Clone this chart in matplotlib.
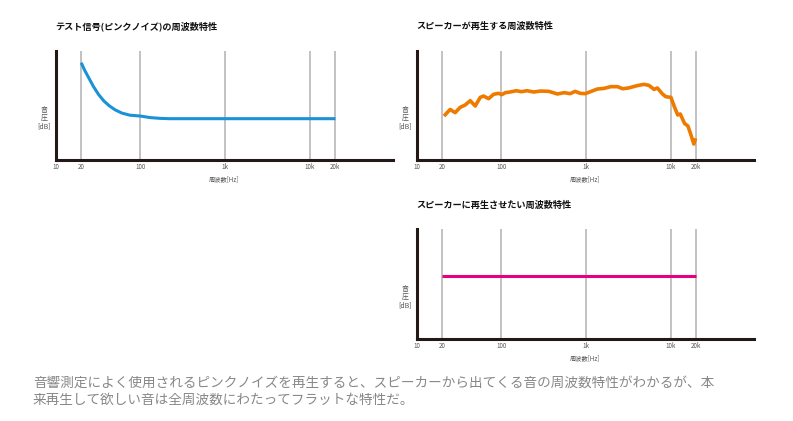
import matplotlib.pyplot as plt
import numpy as np

plt.rcParams['font.family'] = ['Noto Sans CJK JP', 'DejaVu Sans']

# data
tick_freqs = [10, 20, 100, 1000, 10000, 20000]
tick_labels = ['10', '20', '100', '1k', '10k', '20k']
grid_freqs = [20, 100, 1000, 10000, 20000]

pink_f = [20, 22, 25, 28, 32, 37, 43, 50, 60, 75, 100, 130, 170, 220, 20000]
pink_v = [89, 82, 74, 67, 60, 54, 49.5, 46, 43, 41, 40.2, 38.8, 38.1, 37.8, 37.8]

spk_f = [21, 24.8, 28.4, 32.6, 37.3, 42.8, 49, 56.2, 61.5, 70.5, 80.8, 92.5, 101, 111, 126, 150,
         171, 200, 240, 288, 363, 457, 550, 646, 741, 851, 977, 1122, 1349, 1622, 1950, 2344,
         2692, 3162, 3981, 4786, 5495, 6310, 6918, 7943, 8710, 10000, 10965, 12023, 12882,
         14454, 15849, 16982, 18621, 19500]
spk_v = [40.2, 46.3, 43.3, 48.2, 50.3, 54.3, 49.4, 57.3, 58.5, 56.1, 60.1, 61, 59.8, 61.6,
         62.2, 63.4, 62.5, 63.4, 62.2, 63.1, 62.8, 60.4, 61.6, 60.7, 62.8, 61, 60.7, 62.5,
         64.9, 65.5, 67.1, 67.1, 65.2, 65.9, 68, 69.2, 68.3, 64.6, 65.9, 60.4, 57.9, 57.3,
         48.8, 41.2, 42.1, 33.5, 31.1, 24.4, 14.6, 19.8]

flat_f = [20, 20000]
flat_v = [57.7, 57.7]

titles = ['テスト信号(ピンクノイズ)の周波数特性', 'スピーカーが再生する周波数特性',
          'スピーカーに再生させたい周波数特性']
caption = ('音響測定によく使用されるピンクノイズを再生すると、スピーカーから出てくる音の周波数特性がわかるが、本\n'
           '来再生して欲しい音は全周波数にわたってフラットな特性だ。')

W, H = 793, 421
fig = plt.figure(figsize=(W / 100, H / 100), dpi=100)

axis_col = '#231815'


def make_ax(left, top, w, h, title):
    ax = fig.add_axes([left / W, 1 - (top + h) / H, w / W, h / H])
    ax.set_xscale('log')
    ax.set_xlim(10, 10 ** 4.98)
    ax.set_ylim(0, 100)
    for s in ['top', 'right']:
        ax.spines[s].set_visible(False)
    for s in ['left', 'bottom']:
        ax.spines[s].set_color(axis_col)
        ax.spines[s].set_linewidth(2.2)
        ax.spines[s].set_zorder(5)
    ax.set_xticks(tick_freqs)
    ax.set_xticklabels(tick_labels)
    ax.xaxis.set_minor_locator(plt.NullLocator())
    ax.set_yticks([])
    ax.tick_params(axis='x', length=0, pad=2, labelsize=4.5, labelcolor='#555555')
    ax.vlines(grid_freqs, 0, 100, color='#bdbdbd', lw=1.3, zorder=1)
    ax.text(0.5, -0.175, '周波数[Hz]', transform=ax.transAxes, ha='center', va='center',
            fontsize=4.5, color='#555555')
    ax.text(-0.035, 0.38, '音\n圧\n[dB]', transform=ax.transAxes, ha='center', va='center',
            fontsize=5, color='#555555', linespacing=1.0, rotation=0)
    ax.text(0, 1 + 24 / h, title, transform=ax.transAxes, ha='left', va='center',
            fontsize=6.6, fontweight='bold', color='#111111')
    return ax


ax1 = make_ax(55.7, 50.7, 337.3, 109.3, titles[0])
ax1.plot(pink_f, pink_v, color='#1a92d6', lw=2.2, solid_capstyle='butt', zorder=3)

ax2 = make_ax(416.7, 50.7, 337.3, 109.3, titles[1])
ax2.plot(spk_f, spk_v, color='#ef7a00', lw=2.6, solid_capstyle='butt', solid_joinstyle='round', zorder=3)

ax3 = make_ax(416.7, 229.3, 337.3, 109.7, titles[2])
ax3.plot(flat_f, flat_v, color='#e4007f', lw=2.2, solid_capstyle='butt', zorder=3)

fig.text(33 / W, 1 - 391 / H, caption, ha='left', va='center', fontsize=9.8,
         color='#888888', linespacing=1.25)

fig.savefig('out.png', dpi=100)
